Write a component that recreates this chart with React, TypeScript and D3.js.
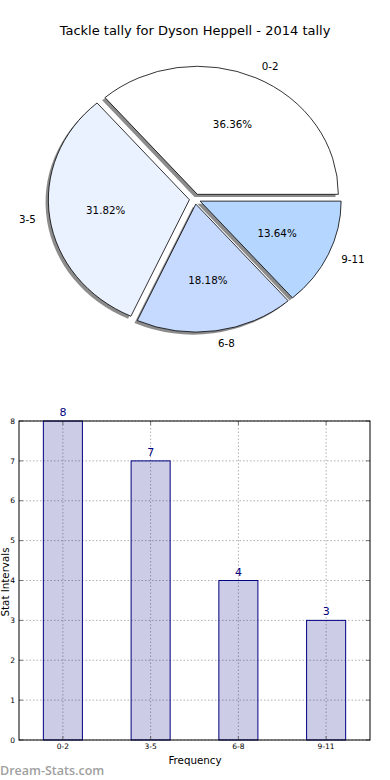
import React from "react";
import * as d3 from "d3";

const categories = ["0-2", "3-5", "6-8", "9-11"];
const values = [8, 7, 4, 3];
const pieColors = ["#ffffff", "#ebf2ff", "#c6d9ff", "#b4d6ff"];
const yTicks = [0, 1, 2, 3, 4, 5, 6, 7, 8];
const title = "Tackle tally for Dyson Heppell - 2014 tally";

const FONT = "DejaVu Sans, Verdana, sans-serif";
const NAVY = "#000080";

export default function App() {
  // ---- Pie ----
  const cx = 195, cy = 199, rx = 141, ry = 128;
  const explode = 0.04;
  const shadowOff = 0.02;
  const total = d3.sum(values);
  const pie = d3
    .pie<number>()
    .sort(null)
    .startAngle(Math.PI / 2)
    .endAngle(Math.PI / 2 - 2 * Math.PI);
  const arcs = pie(values);
  const arcGen = d3.arc<d3.PieArcDatum<number>>().innerRadius(0).outerRadius(1);

  const slices = arcs.map((a, i) => {
    const mid = (a.startAngle + a.endAngle) / 2;
    const dx = Math.sin(mid);
    const dy = -Math.cos(mid);
    return { a, i, dx, dy, path: arcGen(a) as string };
  });

  // ---- Bars ----
  const left = 19, right = 370, top = 421, bottom = 740;
  const x = d3.scaleBand<string>().domain(categories).range([left, right]).paddingInner(0.555).paddingOuter(0.2775);
  const y = d3.scaleLinear().domain([0, 8]).range([bottom, top]);
  const bw = x.bandwidth();

  return (
    <svg width={390} height={780} style={{ position: "absolute", left: 0, top: 0, background: "#fff" }} fontFamily={FONT}>
      <rect width={390} height={780} fill="#fff" />
      <text x={195} y={35} textAnchor="middle" fontSize={13} fill="#000">{title}</text>

      <g transform={`translate(${cx},${cy}) scale(${rx},${ry})`}>
        {slices.map((s) => (
          <path
            key={"sh" + s.i}
            d={s.path}
            transform={`translate(${s.dx * explode - shadowOff},${s.dy * explode + shadowOff})`}
            fill="#000"
            fillOpacity={0.45}
          />
        ))}
        {slices.map((s) => (
          <path
            key={"sl" + s.i}
            d={s.path}
            transform={`translate(${s.dx * explode},${s.dy * explode})`}
            fill={pieColors[s.i]}
            stroke="#000"
            strokeWidth={0.8}
            vectorEffect="non-scaling-stroke"
            strokeLinejoin="round"
          />
        ))}
      </g>
      {slices.map((s) => {
        const lx = cx + (explode + 1.1) * rx * s.dx;
        const ly = cy + (explode + 1.1) * ry * s.dy;
        const px = cx + (explode + 0.6) * rx * s.dx;
        const py = cy + (explode + 0.6) * ry * s.dy;
        const pct = ((values[s.i] / total) * 100).toFixed(2) + "%";
        return (
          <g key={"lb" + s.i} fontSize={10.3} fill="#000">
            <text x={lx} y={ly} dy="0.35em" textAnchor={s.dx > 0 ? "start" : "end"}>{categories[s.i]}</text>
            <text x={px} y={py} dy="0.35em" textAnchor="middle">{pct}</text>
          </g>
        );
      })}

      {/* ---- Bar chart ---- */}
      {/* grid (below translucent bars) */}
      {yTicks.map((t) => (
        <line key={"gy" + t} x1={left} x2={right} y1={y(t)} y2={y(t)} stroke="#b0b0b0" strokeWidth={1} strokeDasharray="1.5,2" />
      ))}
      {categories.map((c) => {
        const xc = x(c)! + bw / 2;
        return <line key={"gx" + c} x1={xc} x2={xc} y1={top} y2={bottom} stroke="#b0b0b0" strokeWidth={1} strokeDasharray="1.5,2" />;
      })}
      {categories.map((c, i) => (
        <rect
          key={"b" + c}
          x={x(c)!}
          y={y(values[i])}
          width={bw}
          height={y(0) - y(values[i])}
          fill={NAVY}
          fillOpacity={0.2}
          stroke={NAVY}
          strokeWidth={1}
        />
      ))}
      {/* ticks */}
      {yTicks.map((t) => (
        <g key={"ty" + t}>
          <line x1={left} x2={left + 4} y1={y(t)} y2={y(t)} stroke="#555" strokeWidth={0.8} />
          <line x1={right - 4} x2={right} y1={y(t)} y2={y(t)} stroke="#555" strokeWidth={0.8} />
          <text x={left - 4} y={y(t)} dy="0.35em" textAnchor="end" fontSize={7.5} fill="#000">{t}</text>
        </g>
      ))}
      {categories.map((c) => {
        const xc = x(c)! + bw / 2;
        return (
          <g key={"tx" + c}>
            <line x1={xc} x2={xc} y1={bottom} y2={bottom - 4} stroke="#555" strokeWidth={0.8} />
            <line x1={xc} x2={xc} y1={top} y2={top + 4} stroke="#555" strokeWidth={0.8} />
            <text x={xc} y={bottom + 9} textAnchor="middle" fontSize={7.5} fill="#000">{c}</text>
          </g>
        );
      })}
      <rect x={left} y={top} width={right - left} height={bottom - top} fill="none" stroke="#000" strokeWidth={1} />
      {/* value labels */}
      {categories.map((c, i) => (
        <text key={"v" + c} x={x(c)! + bw / 2} y={y(values[i]) - 5} textAnchor="middle" fontSize={11} fill={NAVY}>{values[i]}</text>
      ))}
      <text x={195} y={764} textAnchor="middle" fontSize={10.3} fill="#000">Frequency</text>
      <text transform={`translate(9,582) rotate(-90)`} textAnchor="middle" fontSize={10.3} fill="#000">Stat Intervals</text>
      <text x={0} y={775} fontSize={12.5} fontWeight={600} fill="#a0a0a0" fontFamily="Open Sans, sans-serif">Dream-Stats.com</text>
    </svg>
  );
}
